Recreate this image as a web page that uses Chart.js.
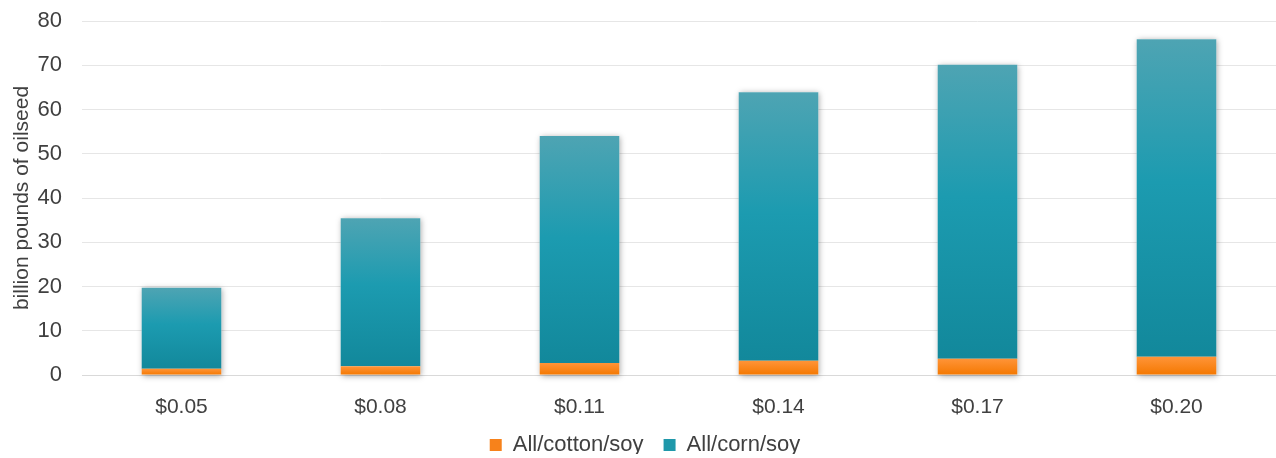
<!DOCTYPE html>
<html>
<head>
<meta charset="utf-8">
<script src="https://cdn.jsdelivr.net/npm/chart.js@4.4.1/dist/chart.umd.min.js"></script>
<style>
  html, body { margin: 0; padding: 0; background: #ffffff; }
  #wrap { width: 1276px; height: 458px; position: relative; }
</style>
</head>
<body>
<div id="wrap"><canvas id="chart"></canvas></div>
<script>
// Oil price scenarios (per pound) on the category axis
const categories = ['$0.05', '$0.08', '$0.11', '$0.14', '$0.17', '$0.20'];
// Billion pounds of oilseed, stacked: cotton/soy at the base, corn/soy above
const cottonSoy = [1.4, 2.0, 2.7, 3.2, 3.7, 4.1];
const cornSoy = [18.3, 33.4, 51.3, 60.7, 66.4, 71.8];
const seriesNames = ['All/cotton/soy', 'All/corn/soy'];
const yMax = 80;
const yStep = 10;

const FONT = "'Liberation Sans', Arial, sans-serif";
const TEXT = '#404040';
const solid = ['#f7821b', '#1f98aa'];
const gradientStops = [
  [[0, '#ff9438'], [1, '#f47800']],
  [[0, '#4ea4b3'], [0.45, '#1c9bb0'], [1, '#12889b']]
];

// Vertical gradient spanning each bar segment's own height
function segmentFill(ctx) {
  const idx = ctx.datasetIndex;
  const chart = ctx.chart;
  const y = chart.scales && chart.scales.y;
  if (ctx.type !== 'data' || !y) return solid[idx];
  const i = ctx.dataIndex;
  let base = 0;
  for (let d = 0; d < idx; d++) base += chart.data.datasets[d].data[i];
  const top = base + chart.data.datasets[idx].data[i];
  const yTop = y.getPixelForValue(top);
  const yBot = y.getPixelForValue(base);
  if (!isFinite(yTop) || !isFinite(yBot) || yTop === yBot) return solid[idx];
  const g = chart.ctx.createLinearGradient(0, yTop, 0, yBot);
  gradientStops[idx].forEach(s => g.addColorStop(s[0], s[1]));
  return g;
}

// Soft drop shadow behind each full stacked column
const columnShadow = {
  id: 'columnShadow',
  beforeDatasetsDraw(chart) {
    const c = chart.ctx;
    const bottom = chart.getDatasetMeta(0).data;
    const upper = chart.getDatasetMeta(1).data;
    c.save();
    c.shadowColor = 'rgba(0,0,0,0.35)';
    c.shadowBlur = 6;
    c.shadowOffsetX = 1;
    c.shadowOffsetY = 1;
    c.fillStyle = '#ffffff';
    upper.forEach((el, i) => {
      const b = bottom[i];
      const w = el.width;
      c.fillRect(el.x - w / 2, el.y, w, b.base - el.y);
    });
    c.restore();
  }
};

// Legend keeps wide spacing between entries inside a compact band
const LEGEND_HEIGHT = 40;
const LEGEND_SHIFT_X = 7;
const LEGEND_SHIFT_Y = -4;
const compactLegend = {
  id: 'compactLegend',
  beforeLayout(chart) {
    const legend = chart.legend;
    if (!legend || legend._compact) return;
    legend._compact = true;
    const fit = legend.fit;
    legend.fit = function () {
      fit.call(this);
      this.height = LEGEND_HEIGHT;
    };
    const draw = legend.draw;
    legend.draw = function () {
      const c = this.ctx;
      c.save();
      c.translate(LEGEND_SHIFT_X, LEGEND_SHIFT_Y);
      draw.apply(this, arguments);
      c.restore();
    };
  }
};

new Chart(document.getElementById('chart'), {
  type: 'bar',
  data: {
    labels: categories,
    datasets: [
      { label: seriesNames[0], data: cottonSoy, backgroundColor: segmentFill, borderWidth: 0 },
      { label: seriesNames[1], data: cornSoy, backgroundColor: segmentFill, borderWidth: 0 }
    ]
  },
  options: {
    responsive: true,
    maintainAspectRatio: false,
    animation: false,
    datasets: { bar: { categoryPercentage: 0.8, barPercentage: 0.5 } },
    layout: { padding: { top: 0, right: 0, left: 0, bottom: 0 } },
    plugins: {
      tooltip: { enabled: false },
      legend: {
        position: 'bottom',
        labels: {
          font: { family: FONT, size: 22 },
          color: TEXT,
          boxWidth: 12,
          boxHeight: 12,
          padding: 20,
          generateLabels(chart) {
            return chart.data.datasets.map((ds, i) => ({
              text: ds.label,
              fillStyle: solid[i],
              strokeStyle: solid[i],
              lineWidth: 0,
              fontColor: TEXT,
              datasetIndex: i,
              hidden: false
            }));
          }
        }
      }
    },
    scales: {
      x: {
        stacked: true,
        grid: { display: false, drawTicks: false },
        border: { color: '#d9d9d9', width: 1 },
        ticks: { font: { family: FONT, size: 21 }, color: TEXT, padding: 20 },
        afterFit(scale) { scale.height = 43; }
      },
      y: {
        stacked: true,
        min: 0,
        max: yMax,
        grid: { color: '#e6e6e6', lineWidth: 1, drawTicks: false },
        border: { display: false },
        ticks: { stepSize: yStep, font: { family: FONT, size: 22 }, color: TEXT, padding: 20 },
        title: {
          display: true,
          text: 'billion pounds of oilseed',
          font: { family: FONT, size: 21 },
          color: TEXT,
          padding: { top: 10, bottom: 0 }
        },
        afterFit(scale) {
          scale.width = 82;
          scale.paddingTop = 21;
        }
      }
    }
  },
  plugins: [columnShadow, compactLegend]
});
</script>
</body>
</html>
